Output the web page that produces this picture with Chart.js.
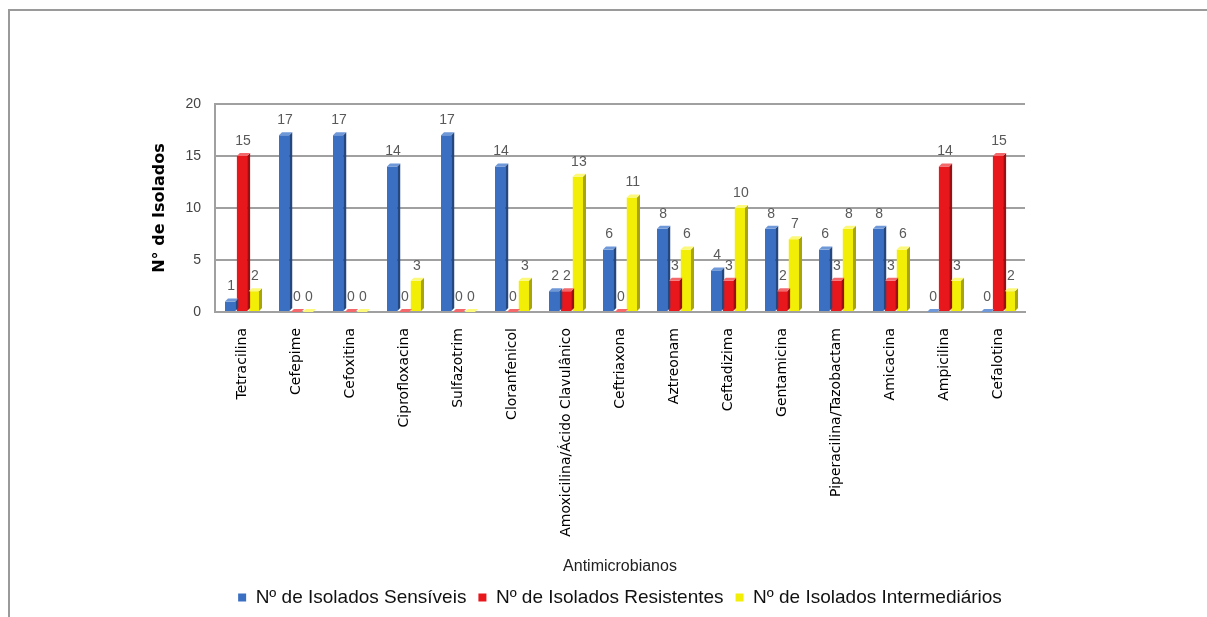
<!DOCTYPE html>
<html>
<head>
<meta charset="utf-8">
<script src="https://cdn.jsdelivr.net/npm/chart.js@4/dist/chart.umd.min.js"></script>
<style>
    body { margin: 0; background: #fff; }
    canvas { display: block; }
</style>
</head>
<body>
<canvas id="chart" width="1207" height="617"></canvas>
<script>
var categories = ["Tetracilina", "Cefepime", "Cefoxitina", "Ciprofloxacina", "Sulfazotrim", "Cloranfenicol",
    "Amoxicilina/Ácido Clavulânico", "Ceftriaxona", "Aztreonam", "Ceftadizima", "Gentamicina",
    "Piperacilina/Tazobactam", "Amicacina", "Ampicilina", "Cefalotina"];
var sensiveis = [1, 17, 17, 14, 17, 14, 2, 6, 8, 4, 8, 6, 8, 0, 0];
var resistentes = [15, 0, 0, 0, 0, 0, 2, 0, 3, 3, 2, 3, 3, 14, 15];
var intermediarios = [2, 0, 0, 3, 0, 3, 13, 11, 6, 10, 7, 8, 6, 3, 2];
var yTicks = [0, 5, 10, 15, 20];

var depth = 3;
var faceColors = [
    {front: "#3a6fc1", side: "#24477f", top: "#6f98d8"},
    {front: "#e8171c", side: "#9c0e12", top: "#f2686b"},
    {front: "#f2ee05", side: "#a8a400", top: "#fbf87a"}
];

// frame lines round the picture (top and left only)
var framePlugin = {
    id: "frame",
    beforeDraw: function (chart) {
        var ctx = chart.ctx;
        ctx.save();
        ctx.fillStyle = "#fff";
        ctx.fillRect(0, 0, chart.width, chart.height);
        ctx.strokeStyle = "#9a9a9a";
        ctx.lineWidth = 2;
        ctx.beginPath();
        ctx.moveTo(9, chart.height);
        ctx.lineTo(9, 10);
        ctx.lineTo(chart.width, 10);
        ctx.stroke();
        ctx.restore();
    }
};

// side and top faces so the bars look like the 3D original, plus value labels
var barFacesPlugin = {
    id: "barFaces",
    afterDatasetsDraw: function (chart) {
        var ctx = chart.ctx;
        ctx.save();
        chart.data.datasets.forEach(function (ds, di) {
            var meta = chart.getDatasetMeta(di);
            var c = faceColors[di];
            meta.data.forEach(function (bar, i) {
                var p = bar.getProps(["x", "y", "base", "width"], true);
                var l = p.x - p.width / 2, r = p.x + p.width / 2;
                ctx.fillStyle = c.side;
                ctx.beginPath();
                ctx.moveTo(r, p.y);
                ctx.lineTo(r + depth, p.y - depth);
                ctx.lineTo(r + depth, p.base - depth);
                ctx.lineTo(r, p.base);
                ctx.closePath();
                ctx.fill();
                ctx.fillStyle = c.top;
                ctx.beginPath();
                ctx.moveTo(l, p.y);
                ctx.lineTo(l + depth, p.y - depth);
                ctx.lineTo(r + depth, p.y - depth);
                ctx.lineTo(r, p.y);
                ctx.closePath();
                ctx.fill();
            });
        });
        ctx.fillStyle = "#595959";
        ctx.font = "14px 'Liberation Sans', Arial, sans-serif";
        ctx.textAlign = "center";
        ctx.textBaseline = "bottom";
        chart.data.datasets.forEach(function (ds, di) {
            var meta = chart.getDatasetMeta(di);
            meta.data.forEach(function (bar, i) {
                ctx.fillText(String(ds.data[i]), bar.x + 1, bar.y - 8);
            });
        });
        ctx.restore();
    }
};

var ctx = document.getElementById("chart").getContext("2d");
var chart = new Chart(ctx, {
    type: "bar",
    data: {
        labels: categories,
        datasets: [
            {label: "Nº de Isolados Sensíveis", data: sensiveis, backgroundColor: faceColors[0].front},
            {label: "Nº de Isolados Resistentes", data: resistentes, backgroundColor: faceColors[1].front},
            {label: "Nº de Isolados Intermediários", data: intermediarios, backgroundColor: faceColors[2].front}
        ]
    },
    options: {
        responsive: false,
        animation: false,
        layout: {
            padding: {top: 104, left: 150, right: 182, bottom: 0}
        },
        datasets: {
            bar: {
                categoryPercentage: 0.66,
                barPercentage: 0.86
            }
        },
        scales: {
            x: {
                grid: {display: false},
                border: {color: "#a0a0a0", width: 2},
                ticks: {
                    color: "#000",
                    font: {family: "'DejaVu Sans', Arial, sans-serif", size: 14},
                    minRotation: 90,
                    maxRotation: 90,
                    autoSkip: false,
                    padding: 8
                },
                title: {
                    display: true,
                    text: "Antimicrobianos",
                    color: "#222",
                    font: {family: "'Liberation Sans', Arial, sans-serif", size: 16},
                    padding: {top: 0, bottom: 0}
                },
                afterFit: function (scale) {
                    scale.height = 264;
                }
            },
            y: {
                min: 0,
                max: 20,
                afterBuildTicks: function (scale) {
                    scale.ticks = yTicks.map(function (v) { return {value: v}; });
                },
                grid: {color: "#a0a0a0", lineWidth: 2, drawTicks: false},
                border: {color: "#a0a0a0", width: 2},
                ticks: {
                    color: "#444",
                    font: {family: "'Liberation Sans', Arial, sans-serif", size: 14},
                    padding: 14
                },
                title: {
                    display: true,
                    text: "N° de Isolados",
                    color: "#000",
                    font: {family: "'DejaVu Sans', Arial, sans-serif", size: 16, weight: "bold"},
                    padding: {top: 0, bottom: 0}
                },
                afterFit: function (scale) {
                    scale.width = 215 - 150;
                }
            }
        },
        plugins: {
            legend: {
                position: "bottom",
                fullSize: false,
                labels: {
                    color: "#111",
                    font: {family: "'Liberation Sans', Arial, sans-serif", size: 19},
                    boxWidth: 8,
                    boxHeight: 8,
                    padding: 12
                }
            },
            tooltip: {enabled: false}
        }
    },
    plugins: [framePlugin, barFacesPlugin]
});
</script>
</body>
</html>
